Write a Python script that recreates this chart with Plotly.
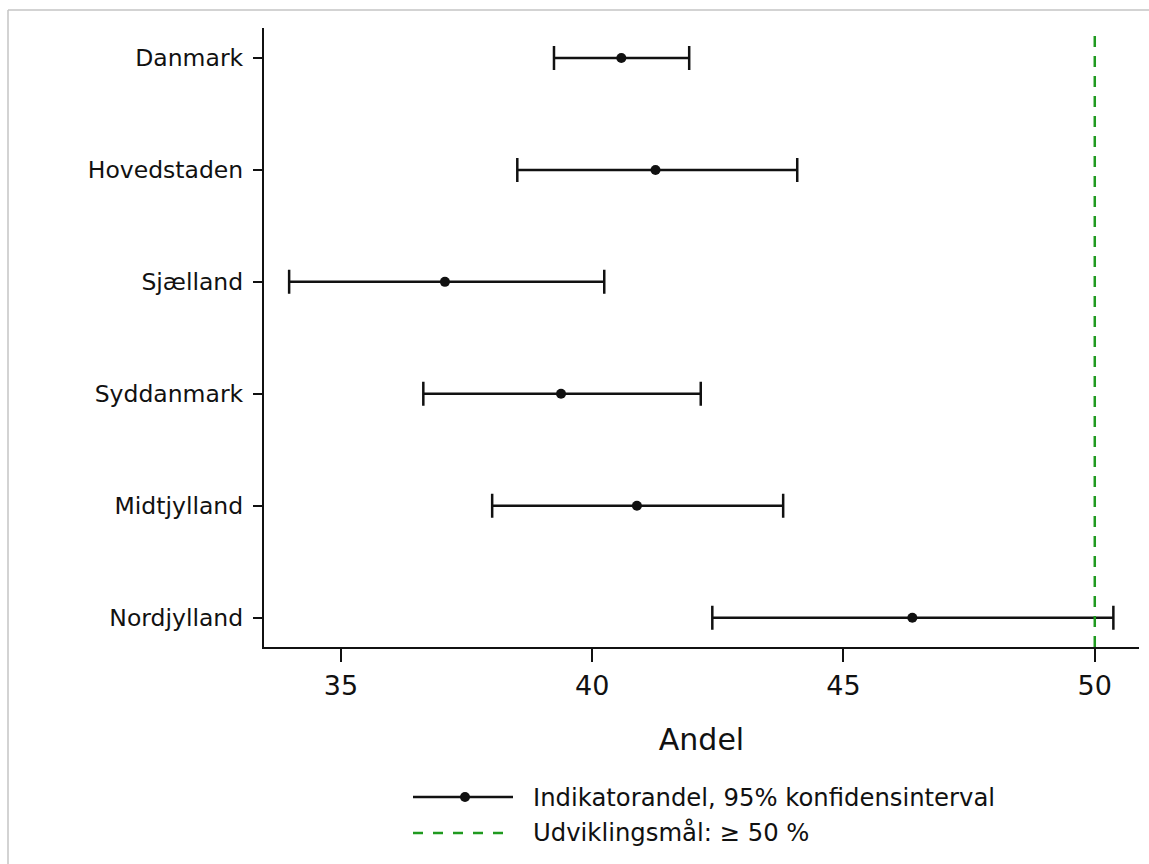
import plotly.graph_objects as go

# ---- data ----
regions = ["Danmark", "Hovedstaden", "Sjælland", "Syddanmark", "Midtjylland", "Nordjylland"]
estimate = [40.58, 41.26, 37.07, 39.38, 40.89, 46.37]
ci_lower = [39.24, 38.51, 33.97, 36.64, 38.01, 42.39]
ci_upper = [41.93, 44.08, 40.24, 42.16, 43.80, 50.37]
target = 50
x_ticks = [35, 40, 45, 50]
x_title = "Andel"
legend_labels = ["Indikatorandel, 95% konfidensinterval", "Udviklingsmål: ≥ 50 %"]

FONT = "DejaVu Sans"
INK = "#111111"
GREEN = "#1f9a1f"

# layout geometry (pixels)
W, H = 1149, 864
L, R, T, B = 264, 10, 28, 217
PW, PH = W - L - R, H - T - B


def px(xp):
    return (xp - L) / PW


def py(yp):
    return (H - B - yp) / PH


err_plus = [u - e for u, e in zip(ci_upper, estimate)]
err_minus = [e - l for e, l in zip(estimate, ci_lower)]

fig = go.Figure()
fig.add_trace(go.Scatter(
    x=estimate, y=regions, mode="markers",
    marker=dict(color=INK, size=10),
    error_x=dict(type="data", symmetric=False, array=err_plus, arrayminus=err_minus,
                 color=INK, thickness=2.5, width=12),
    showlegend=False, cliponaxis=False,
))

shapes = []
# target line
shapes.append(dict(type="line", xref="x", yref="paper", x0=target, x1=target, y0=0, y1=1,
                   line=dict(color=GREEN, width=2.5, dash="11px,9px"), layer="above"))
# page frame (gray top/left)
shapes.append(dict(type="line", xref="paper", yref="paper", x0=px(8), x1=px(W + 5), y0=py(10), y1=py(10),
                   line=dict(color="#c4c4c4", width=1.5)))
shapes.append(dict(type="line", xref="paper", yref="paper", x0=px(8), x1=px(8), y0=py(10), y1=py(H + 5),
                   line=dict(color="#c4c4c4", width=1.5)))
# legend symbols
shapes.append(dict(type="line", xref="paper", yref="paper", x0=px(413), x1=px(513), y0=py(797), y1=py(797),
                   line=dict(color=INK, width=2.5)))
shapes.append(dict(type="circle", xref="paper", yref="paper", xsizemode="pixel", ysizemode="pixel",
                   xanchor=px(465), yanchor=py(797), x0=-5, x1=5, y0=-5, y1=5,
                   fillcolor=INK, line=dict(color=INK, width=0)))
shapes.append(dict(type="line", xref="paper", yref="paper", x0=px(413), x1=px(508), y0=py(833), y1=py(833),
                   line=dict(color=GREEN, width=2.5, dash="10px,10px")))

annotations = []
for lbl, yy in zip(legend_labels, [797, 833]):
    annotations.append(dict(text=lbl, xref="paper", yref="paper", x=px(531), y=py(yy),
                            xanchor="left", yanchor="middle", showarrow=False,
                            font=dict(family=FONT, size=24.3, color=INK)))

fig.update_layout(
    width=W, height=H,
    margin=dict(l=L, r=R, t=T, b=B),
    paper_bgcolor="white", plot_bgcolor="white",
    font=dict(family=FONT, color=INK),
    shapes=shapes, annotations=annotations,
    showlegend=False,
)
fig.update_xaxes(
    range=[33.47, 50.88], tickvals=x_ticks, ticktext=[str(t) for t in x_ticks],
    showgrid=False, zeroline=False, showline=True, linecolor=INK, linewidth=2.2,
    ticks="outside", ticklen=13, tickwidth=2.2, tickcolor=INK,
    tickfont=dict(family=FONT, size=27, color=INK),
    title=dict(text=x_title, font=dict(family=FONT, size=30, color=INK), standoff=29),
)
fig.update_yaxes(
    type="category", categoryorder="array", categoryarray=regions,
    range=[5.262, -0.268],
    showgrid=False, zeroline=False, showline=True, linecolor=INK, linewidth=2.2,
    ticks="outside", ticklen=9, tickwidth=2.2, tickcolor=INK, ticklabelstandoff=5,
    tickfont=dict(family=FONT, size=23.5, color=INK),
)

fig.write_html("out.html")
